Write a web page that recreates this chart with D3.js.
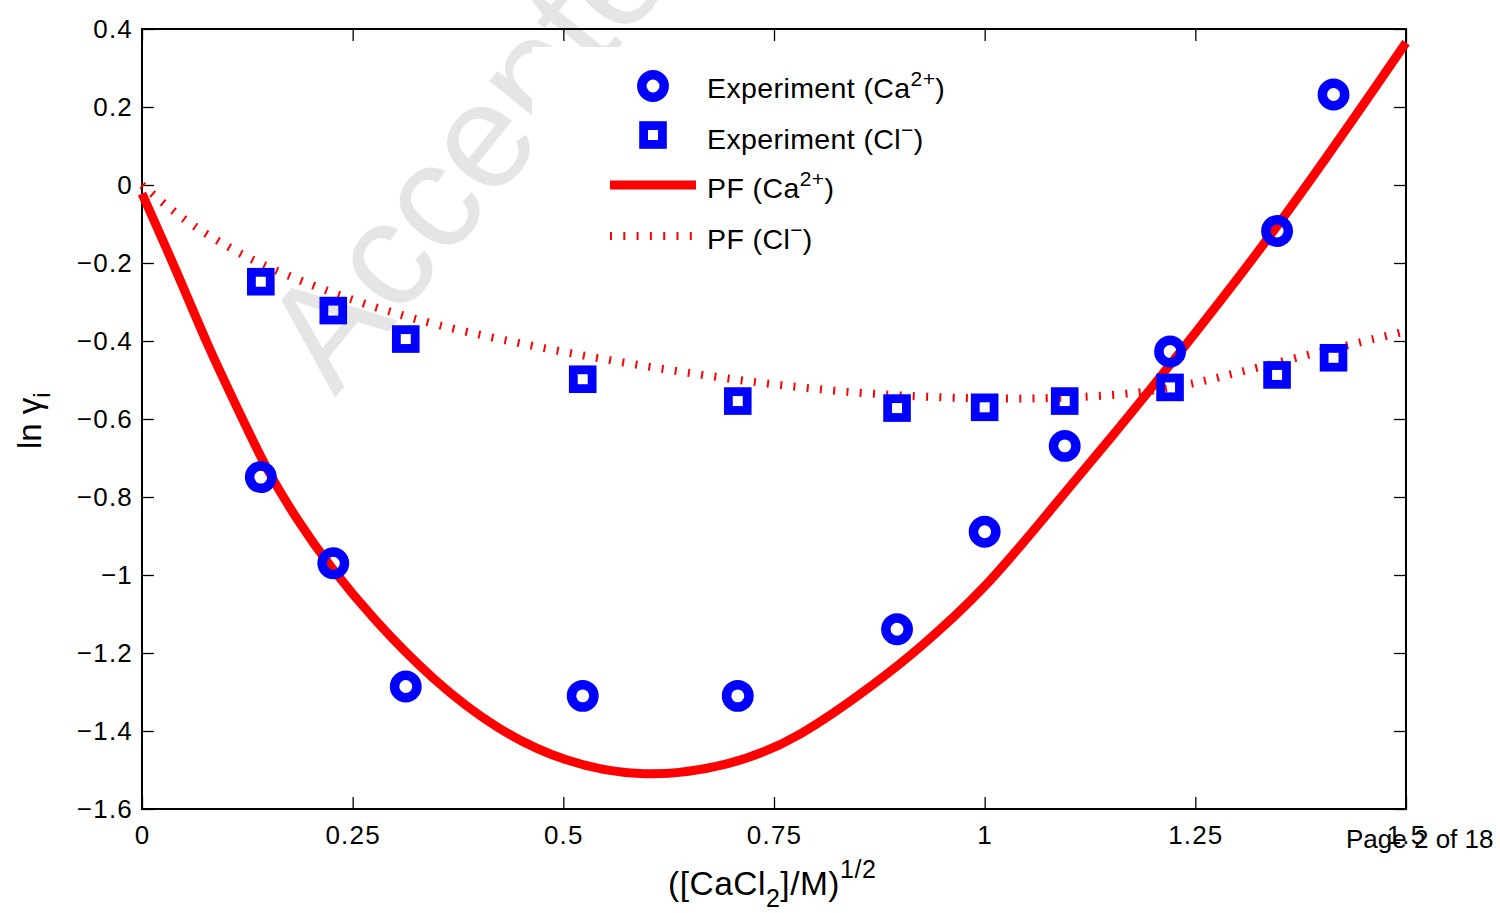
<!DOCTYPE html>
<html>
<head>
<meta charset="utf-8">
<script src="https://cdn.jsdelivr.net/npm/d3@7"></script>
<style>
  body { margin: 0; background: #fff; }
  svg text { font-family: "Liberation Sans", Arial, Helvetica, sans-serif; fill: #000; }
</style>
</head>
<body>
<svg id="chart" width="1500" height="913"></svg>
<script>
// sqrt of CaCl2 concentration for the measured points
const xData = [0.141, 0.227, 0.313, 0.523, 0.707, 0.896, 1.0, 1.095, 1.220, 1.347, 1.414];
// measured ln gamma values
const caExp = [-0.749, -0.970, -1.286, -1.310, -1.310, -1.139, -0.889, -0.669, -0.427, -0.118, 0.232];
const clExp = [-0.248, -0.322, -0.395, -0.498, -0.554, -0.572, -0.570, -0.554, -0.519, -0.487, -0.443];

// PF model curves
const caFitX = [0, 0.045, 0.077, 0.116, 0.148, 0.184, 0.223, 0.275, 0.345, 0.421, 0.5, 0.595, 0.698, 0.777, 0.876, 0.919, 1.0, 1.078, 1.157, 1.212, 1.347, 1.5];
const caFitY = [-0.022, -0.24, -0.408, -0.585, -0.731, -0.859, -0.979, -1.115, -1.27, -1.397, -1.48, -1.522, -1.49, -1.423, -1.269, -1.195, -1.038, -0.833, -0.63, -0.483, -0.115, 0.365];
const clFitX = [0, 0.049, 0.104, 0.148, 0.235, 0.345, 0.5, 0.658, 0.8165, 0.955, 1.07, 1.18, 1.26, 1.34, 1.5];
const clFitY = [0, -0.09, -0.162, -0.211, -0.286, -0.36, -0.43, -0.487, -0.53, -0.547, -0.549, -0.537, -0.505, -0.458, -0.375];

const xTicks = [0, 0.25, 0.5, 0.75, 1, 1.25, 1.5];
const yTicks = [0.4, 0.2, 0, -0.2, -0.4, -0.6, -0.8, -1, -1.2, -1.4, -1.6];

const svg = d3.select("#chart");
const margin = { top: 29, right: 94, bottom: 104, left: 142 };
const width = 1500 - margin.left - margin.right;
const height = 913 - margin.top - margin.bottom;

// watermark sits below everything
svg.append("text")
    .attr("transform", "translate(335,398) rotate(-51)")
    .attr("font-size", 150)
    .style("fill", "#e5e5e5")
    .text("Accepted Manuscript");

const g = svg.append("g").attr("transform", `translate(${margin.left},${margin.top})`);

const x = d3.scaleLinear().domain([0, 1.5]).range([0, width]);
const y = d3.scaleLinear().domain([-1.6, 0.4]).range([height, 0]);
const fmt = d3.format("");

// axes with inward ticks on all four sides
function styleAxis(sel) {
    sel.select(".domain").remove();
    sel.selectAll(".tick line").attr("stroke", "#000").attr("stroke-width", 1.3);
    sel.selectAll(".tick text").attr("font-size", 26).style("letter-spacing", "1.2px").style("fill", "#000");
}
g.append("g").attr("transform", `translate(0,${height})`)
    .call(d3.axisBottom(x).tickValues(xTicks).tickFormat(fmt).tickSizeInner(-12).tickSizeOuter(0).tickPadding(17))
    .call(styleAxis);
g.append("g")
    .call(d3.axisTop(x).tickValues(xTicks).tickFormat("").tickSizeInner(-12).tickSizeOuter(0))
    .call(styleAxis);
g.append("g")
    .call(d3.axisLeft(y).tickValues(yTicks).tickFormat(fmt).tickSizeInner(-12).tickSizeOuter(0).tickPadding(9))
    .call(styleAxis);
g.append("g").attr("transform", `translate(${width},0)`)
    .call(d3.axisRight(y).tickValues(yTicks).tickFormat("").tickSizeInner(-12).tickSizeOuter(0))
    .call(styleAxis);

g.append("rect")
    .attr("width", width).attr("height", height)
    .attr("fill", "none").attr("stroke", "#000").attr("stroke-width", 2);

// legend background hides the watermark
g.append("rect")
    .attr("x", 532 - margin.left).attr("y", 47 - margin.top)
    .attr("width", 440).attr("height", 218)
    .attr("fill", "#fff");

const line = d3.line().x(d => x(d[0])).y(d => y(d[1])).curve(d3.curveBasis);

const plot = g.append("g");
plot.append("path")
    .datum(clFitX.map((v, i) => [v, clFitY[i]]))
    .attr("d", line)
    .attr("fill", "none").attr("stroke", "#ff0000")
    .attr("stroke-width", 8).attr("stroke-dasharray", "2,11.3");

plot.append("path")
    .datum(caFitX.map((v, i) => [v, caFitY[i]]))
    .attr("d", line)
    .attr("fill", "none").attr("stroke", "#ff0000")
    .attr("stroke-width", 9);

plot.selectAll(".ca")
    .data(xData.map((v, i) => [v, caExp[i]]))
    .join("circle")
    .attr("class", "ca")
    .attr("cx", d => x(d[0])).attr("cy", d => y(d[1]))
    .attr("r", 11.2)
    .attr("fill", "none").attr("stroke", "#0000ff").attr("stroke-width", 9.5);

plot.selectAll(".cl")
    .data(xData.map((v, i) => [v, clExp[i]]))
    .join("rect")
    .attr("class", "cl")
    .attr("x", d => x(d[0]) - 9.4).attr("y", d => y(d[1]) - 9.4)
    .attr("width", 18.8).attr("height", 18.8)
    .attr("fill", "none").attr("stroke", "#0000ff").attr("stroke-width", 8.8);

// legend
const leg = svg.append("g");
leg.append("circle").attr("cx", 653).attr("cy", 86).attr("r", 11.2)
    .attr("fill", "none").attr("stroke", "#0000ff").attr("stroke-width", 9.5);
leg.append("rect").attr("x", 653 - 9.4).attr("y", 135 - 9.4).attr("width", 18.8).attr("height", 18.8)
    .attr("fill", "none").attr("stroke", "#0000ff").attr("stroke-width", 8.8);
leg.append("line").attr("x1", 610).attr("x2", 696).attr("y1", 185).attr("y2", 185)
    .attr("stroke", "#ff0000").attr("stroke-width", 9);
leg.append("line").attr("x1", 610).attr("x2", 696).attr("y1", 236).attr("y2", 236)
    .attr("stroke", "#ff0000").attr("stroke-width", 8).attr("stroke-dasharray", "2,11.3");

const legendRows = [
    { y: 98, base: "Experiment (Ca", sup: "2+" },
    { y: 149, base: "Experiment (Cl", sup: "\u2212" },
    { y: 198, base: "PF (Ca", sup: "2+" },
    { y: 249, base: "PF (Cl", sup: "\u2212" }
];
legendRows.forEach(r => {
    const t = leg.append("text").attr("x", 707).attr("y", r.y).attr("font-size", 28.5).style("letter-spacing", "0.4px");
    t.append("tspan").text(r.base);
    t.append("tspan").attr("dy", -12).attr("font-size", 21).text(r.sup);
    t.append("tspan").attr("dy", 12).text(")");
});

// axis titles
const xl = svg.append("text").attr("x", 668).attr("y", 895).attr("font-size", 33.5).style("letter-spacing", "0.5px");
xl.append("tspan").text("([CaCl");
xl.append("tspan").attr("dy", 12).attr("font-size", 25).text("2");
xl.append("tspan").attr("dy", -12).text("]/M)");
xl.append("tspan").attr("dy", -17).attr("font-size", 25).text("1/2");

const yl = svg.append("text").attr("transform", "translate(41,449) rotate(-90)").attr("font-size", 33);
yl.append("tspan").text("ln \u03b3");
yl.append("tspan").attr("dy", 9).attr("font-size", 24).text("i");

// page footer
svg.append("text").attr("x", 1346).attr("y", 848).attr("font-size", 26).text("Page 2 of 18");
</script>
</body>
</html>
